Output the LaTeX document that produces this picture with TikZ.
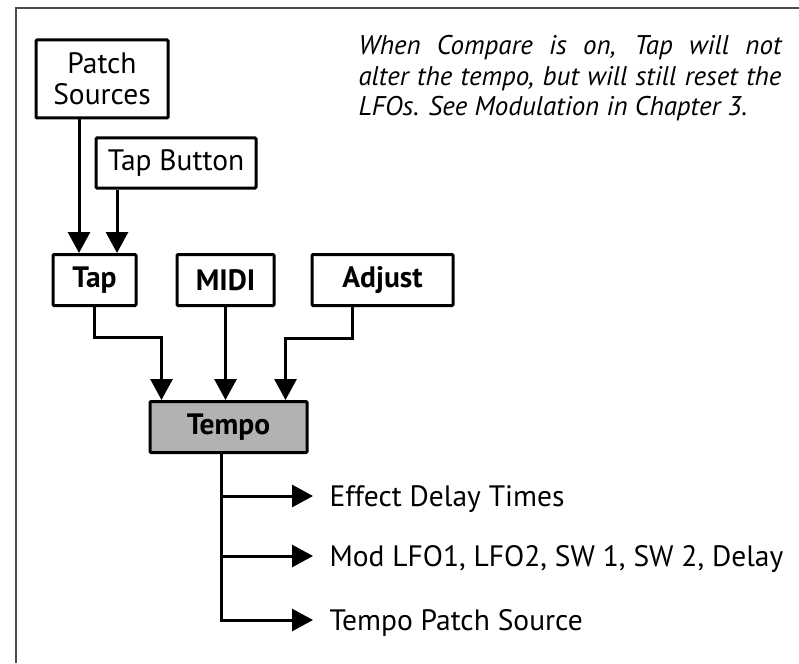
\documentclass[tikz,border=0pt]{standalone}
\usepackage{fontspec}
\setmainfont{PT Sans}
\usetikzlibrary{arrows.meta,calc}

\begin{document}
\begin{tikzpicture}[x=1pt,y=-1pt,line width=3pt,>={Triangle[length=21pt,width=22pt]},
    box/.style={draw,rounded corners=1pt,inner sep=0pt,font=\fontsize{29.5}{31}\selectfont,align=center},
    bbox/.style={box,font=\fontsize{29.5}{31}\selectfont\bfseries},
    outl/.style={anchor=west,inner xsep=15pt,inner ysep=0pt,text height=20pt,text depth=0pt,font=\fontsize{29.5}{31}\selectfont}]
      \useasboundingbox (0,0) rectangle (799,663);
      \draw[black!70,line width=2pt] (16,663) -- (16,8) -- (799,8);
      \node (PS) [box,minimum width=132pt,minimum height=78pt] at (102,79) {Patch\\Sources};
      \node (TB) [box,minimum width=160pt,minimum height=50pt] at (176,163) {Tap Button};
      \node (TAP) [bbox,minimum width=83pt,minimum height=51pt] at (94.5,280) {Tap};
      \node (MIDI) [bbox,minimum width=97pt,minimum height=51pt] at (225.5,280) {MIDI};
      \node (ADJ) [bbox,minimum width=141pt,minimum height=51pt] at (382.5,280) {Adjust};
      \node (TEMPO) [bbox,fill=black!30,minimum width=157pt,minimum height=51pt] at (228.5,427) {Tempo};
      \node (NOTE) [anchor=north west,inner sep=0pt,text width=423pt,align=justify,font=\fontsize{27}{30.5}\selectfont\itshape] at (357,34)
        {When Compare is on, Tap will not\linebreak alter the tempo, but will still reset the\linebreak LFOs. See Modulation in Chapter 3.};
      \node (EDT) [outl] at (313,496) {Effect Delay Times};
      \node (MOD) [outl] at (313,556) {Mod LFO1, LFO2, SW 1, SW 2, Delay};
      \node (TPS) [outl] at (313,620) {Tempo Patch Source};
      \draw[->] ([xshift=-23pt]PS.south) -- ([xshift=-23pt]PS.south |- TAP.north);
      \draw[->] ([xshift=-59pt]TB.south) -- ([xshift=-59pt]TB.south |- TAP.north);
      \draw[->] (TAP.south) -- ++(0,30) -| ([xshift=13pt]TEMPO.north west);
      \draw[->] (MIDI.south) -- (MIDI.south |- TEMPO.north);
      \draw[->] ([xshift=-30.5pt]ADJ.south) -- ++(0,31) -| ([xshift=-23pt]TEMPO.north east);
      \coordinate (T) at ([xshift=-7.5pt]TEMPO.south);
      \draw[->] (T) |- (TPS.west);
      \draw[->] (T |- EDT.west) -- (EDT.west);
      \draw[->] (T |- MOD.west) -- (MOD.west);
    \end{tikzpicture}
\end{document}
